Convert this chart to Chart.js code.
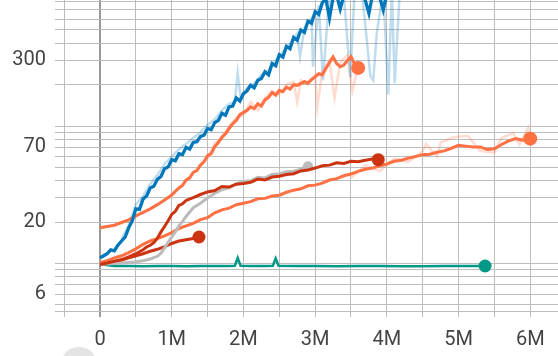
<!DOCTYPE html>
<html><head><meta charset="utf-8">
<script src="https://cdn.jsdelivr.net/npm/chart.js@4/dist/chart.umd.min.js"></script>
<style>html,body{margin:0;padding:0;background:#fff;overflow:hidden}#wrap{position:relative;width:558px;height:356px}canvas{display:block}</style>
</head><body><div id="wrap"><canvas id="c" width="558" height="356"></canvas></div>
<script>
// ---- tick labels ----
const xGridValues = [-0.5,0,0.5,1,1.5,2,2.5,3,3.5,4,4.5,5,5.5,6];
const xTickValues = [0,1,2,3,4,5,6];
const xTickLabels = ['0','1M','2M','3M','4M','5M','6M'];
const yGridValues = [5,6,7,8,9,10,20,30,40,50,60,70,80,90,100,200,300,400,500,600,700,800];
const yTickValues = [300,70,20,6];
const yTickLabels = ['300','70','20','6'];

// ---- series (steps in millions, values) ----
const blueSteps = [0,0.05,0.1,0.15,0.2,0.25,0.3,0.35,0.4,0.45,0.5,0.55,0.6,0.65,0.7,0.75,0.8,0.85,0.9,0.95,1.0,1.05,1.1,1.15,1.2,1.25,1.3,1.35,1.4,1.45,1.5,1.55,1.6,1.65,1.7,1.75,1.8,1.85,1.9,1.95,2.0,2.05,2.1,2.15,2.2,2.25,2.3,2.35,2.4,2.45,2.5,2.55,2.6,2.65,2.7,2.75,2.8,2.85,2.9,2.95,3.0,3.05,3.1,3.15,3.2,3.25,3.3,3.35,3.4,3.45,3.5,3.55,3.6,3.65,3.7,3.75,3.8,3.85,3.9,3.95,4.0,4.05,4.1,4.15,4.22];
const blueValues = [11.0,11.4,11.8,12.6,12.4,13.6,14.6,15.6,18.2,20.5,25.0,24.8,29.5,31.0,35.5,36.5,41.0,43.0,49.0,50.5,57.0,56.0,63.0,62.0,70.0,68.0,76.0,77.0,84.0,86.0,96.0,94.0,106,110,124,120,138,140,160,152,172,180,198,190,215,222,248,236,285,275,330,318,380,365,440,420,500,480,580,560,680,650,790,840,610,860,900,710,890,950,870,930,880,960,820,660,900,940,860,700,910,950,880,920,900];
const blueRawSteps = [0.3,0.4,0.5,0.6,0.7,0.8,0.9,1.0,1.1,1.2,1.3,1.4,1.5,1.6,1.7,1.8,1.88,1.92,1.96,2.05,2.15,2.25,2.35,2.45,2.55,2.65,2.75,2.79,2.85,2.95,2.97,3.05,3.11,3.2,3.3,3.4,3.49,3.55,3.65,3.77,3.81,3.86,3.95,4.02,4.07,4.11,4.18];
const blueRawValues = [15,19,27,31,38,44,53,60,68,74,82,90,102,112,130,145,150,245,160,190,205,235,255,300,345,400,470,320,520,610,270,760,215,950,980,900,228,950,990,230,215,480,950,170,960,205,950];

const orangeASteps = [0,0.1,0.2,0.3,0.4,0.5,0.6,0.7,0.8,0.9,1.0,1.05,1.1,1.15,1.2,1.25,1.3,1.35,1.4,1.45,1.5,1.55,1.6,1.65,1.7,1.75,1.8,1.85,1.9,1.95,2.0,2.05,2.1,2.15,2.2,2.25,2.3,2.35,2.4,2.45,2.5,2.55,2.6,2.65,2.7,2.75,2.8,2.85,2.9,2.95,3.0,3.05,3.1,3.15,3.2,3.25,3.3,3.35,3.4,3.45,3.5,3.55,3.6];
const orangeAValues = [18.2,18.6,19.0,19.9,20.8,22.2,23.6,25.0,26.8,29.0,31.5,33.5,35.5,37.0,40.5,42.0,46.0,47.5,52.0,55.0,61.0,63.0,71.0,76.0,83.0,88.0,96.0,104,110,121,126,130,138,134,145,140,155,162,175,168,182,178,192,186,200,198,204,210,206,218,228,240,236,262,290,318,285,270,278,300,320,282,265];
const orangeARawSteps = [1.5,1.6,1.7,1.8,1.9,2.0,2.1,2.2,2.3,2.4,2.5,2.6,2.7,2.75,2.8,2.9,3.0,3.03,3.1,3.2,3.27,3.35,3.45,3.52,3.6];
const orangeARawValues = [58,75,80,100,115,120,150,130,160,180,170,200,210,150,215,200,235,137,250,300,160,290,330,180,270];

const orangeBSteps = [0,0.1,0.2,0.3,0.4,0.5,0.6,0.7,0.8,0.9,1.0,1.1,1.2,1.3,1.4,1.5,1.6,1.7,1.8,1.9,2.0,2.1,2.2,2.3,2.4,2.5,2.6,2.7,2.8,2.9,3.0,3.1,3.2,3.3,3.4,3.5,3.6,3.7,3.8,3.9,4.0,4.1,4.2,4.3,4.4,4.5,4.6,4.7,4.8,4.9,5.0,5.1,5.2,5.3,5.4,5.5,5.6,5.7,5.8,5.9,6.0];
const orangeBValues = [10.2,10.5,11.0,11.4,12.0,12.8,13.8,14.6,15.2,15.9,16.8,18.0,18.8,19.6,20.9,21.6,23.4,24.6,25.3,26.8,27.5,28.2,29.6,29.8,31.0,31.4,33.0,34.2,35.0,36.8,37.2,38.5,40.5,41.5,43.5,44.8,46.8,48.5,49.5,51.5,53.0,55.5,56.5,58.5,60.0,62.0,62.5,64.5,66.0,69.0,72.5,71.5,70.5,70.5,67.5,68.5,73.5,78.0,81.0,79.0,81.0];
const orangeBRawSteps = [3.5,3.7,3.9,4.1,4.3,4.5,4.55,4.7,4.75,4.93,5.13,5.3,5.5,5.6,5.76,5.85,5.97,6.0];
const orangeBRawValues = [42,52,47,58,55,66,74,60,76,83,85,66,64,82,89,74,97,81];

const redLongSteps = [0,0.1,0.2,0.3,0.4,0.5,0.6,0.65,0.7,0.75,0.8,0.85,0.9,0.95,1.0,1.05,1.1,1.15,1.2,1.3,1.4,1.5,1.6,1.7,1.8,1.9,2.0,2.1,2.2,2.3,2.4,2.5,2.6,2.7,2.8,2.9,3.0,3.1,3.2,3.3,3.4,3.5,3.6,3.7,3.8,3.88];
const redLongValues = [9.9,10.1,10.4,10.7,11.2,11.8,12.6,13.2,13.6,14.2,15.3,17.0,18.6,20.5,22.8,24.0,26.5,27.2,28.8,30.2,31.8,33.2,34.0,36.4,36.0,37.8,38.2,39.0,41.2,40.5,42.6,43.2,44.5,45.0,47.2,48.0,49.5,51.5,52.0,54.0,53.5,55.5,55.0,56.5,57.5,57.0];

const redShortSteps = [0,0.1,0.2,0.3,0.4,0.5,0.6,0.7,0.8,0.9,1.0,1.1,1.2,1.3,1.38];
const redShortValues = [9.8,10.0,10.3,10.6,11.0,11.4,11.8,12.3,12.7,13.3,14.0,14.6,14.9,15.2,15.6];

const graySteps = [0,0.2,0.4,0.5,0.6,0.7,0.8,0.85,0.9,0.95,1.0,1.05,1.1,1.15,1.2,1.3,1.4,1.5,1.6,1.7,1.8,1.9,2.0,2.1,2.2,2.3,2.4,2.5,2.6,2.7,2.8,2.85,2.9];
const grayValues = [9.9,10.0,10.2,10.3,10.5,10.8,11.3,11.9,13.0,14.3,15.6,17.0,18.8,20.2,22.0,25.5,27.5,30.0,32.5,34.5,35.5,38.0,39.5,40.0,42.5,42.0,44.5,45.0,46.5,47.0,48.5,50.5,51.0];

const tealSteps = [0,0.2,0.4,0.6,0.8,1.0,1.2,1.4,1.6,1.8,1.88,1.92,1.96,2.1,2.3,2.41,2.45,2.49,2.7,3.0,3.3,3.6,3.9,4.2,4.5,4.8,5.1,5.37];
const tealValues = [9.9,9.6,9.6,9.55,9.6,9.6,9.55,9.6,9.6,9.6,9.65,11.0,9.65,9.6,9.6,9.65,10.9,9.65,9.6,9.6,9.55,9.6,9.6,9.55,9.55,9.6,9.6,9.6];

const pts = (xs, ys) => xs.map((x, i) => ({x: x, y: ys[i]}));
const lastDot = r => c => (c.dataIndex === c.dataset.data.length - 1 ? r : 0);

function line(xs, ys, color, width, dotR) {
  return {data: pts(xs, ys), borderColor: color, backgroundColor: color, borderWidth: width,
    pointRadius: dotR ? lastDot(dotR) : 0, pointBackgroundColor: color, pointBorderWidth: 0,
    tension: 0, fill: false, clip: 0};
}

const datasets = [
  line(blueSteps, blueValues, '#0077bb', 3.3, 0),
  line(orangeASteps, orangeAValues, '#ff7043', 3.1, 7),
  line(redLongSteps, redLongValues, '#cc3311', 3, 6.5),
  line(graySteps, grayValues, '#bbbbbb', 3, 5),
  line(orangeBSteps, orangeBValues, '#ff7043', 3, 7),
  line(redShortSteps, redShortValues, '#cc3311', 3, 6.5),
  line(tealSteps, tealValues, '#009988', 2.5, 6.5),
  line(blueRawSteps, blueRawValues, 'rgba(0,119,187,0.25)', 2.5, 0),
  line(orangeARawSteps, orangeARawValues, 'rgba(255,112,67,0.25)', 2.5, 0),
  line(orangeBRawSteps, orangeBRawValues, 'rgba(255,112,67,0.25)', 2.5, 0)
];

const GRID = '#bdbdbd';
const TEXT = '#444444';
const FONT = {family: 'Roboto', size: 20};

const decor = {
  id: 'decor',
  afterDraw(chart) {
    const g = chart.ctx;
    g.save();
    g.fillStyle = '#e4e4e4';
    g.beginPath();
    g.ellipse(79, 359, 16, 12, 0, 0, Math.PI * 2);
    g.fill();
    g.restore();
  }
};

new Chart(document.getElementById('c'), {
  type: 'line',
  data: {datasets},
  plugins: [decor],
  options: {
    responsive: false, animation: false, devicePixelRatio: 1,
    layout: {padding: 0, autoPadding: false},
    plugins: {legend: {display: false}, tooltip: {enabled: false}},
    scales: {
      x: {
        type: 'linear', bounds: 'data', min: -0.628, max: 6.387,
        afterBuildTicks: s => { s.ticks = xGridValues.map(v => ({value: v})); },
        afterFit: s => { s.height = 45; s.paddingLeft = 0; s.paddingRight = 0; },
        grid: {
          color: c => (c.tick && c.tick.value === 0 ? '#999999' : GRID),
          lineWidth: c => (c.tick && c.tick.value === 0 ? 2 : 1),
          tickLength: 6, drawTicks: true
        },
        border: {display: true, color: GRID, width: 1},
        ticks: {
          autoSkip: false, maxRotation: 0, padding: 11, color: TEXT, font: FONT,
          callback: v => { const i = xTickValues.indexOf(v); return i >= 0 ? xTickLabels[i] : ''; }
        }
      },
      y: {
        type: 'logarithmic', bounds: 'data', min: 4.52, max: 826,
        afterBuildTicks: s => { s.ticks = yGridValues.map(v => ({value: v})); },
        afterFit: s => { s.width = 55; s.paddingTop = 0; s.paddingBottom = 0; },
        grid: {color: GRID, lineWidth: 1, drawTicks: false},
        border: {display: false},
        ticks: {
          autoSkip: false, padding: 9, color: TEXT, font: FONT,
          callback: v => { const i = yTickValues.indexOf(v); return i >= 0 ? yTickLabels[i] : ''; }
        }
      }
    }
  }
});
</script></body></html>
